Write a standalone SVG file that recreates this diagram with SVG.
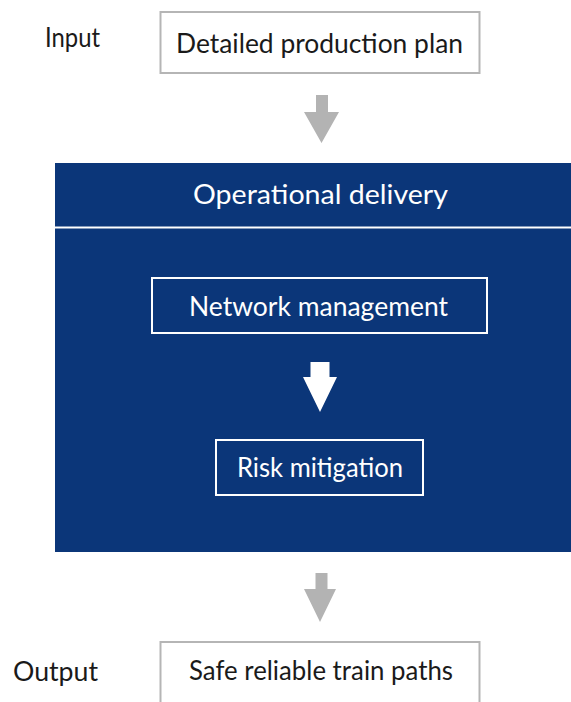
<svg xmlns="http://www.w3.org/2000/svg" width="571" height="702" viewBox="0 0 571 702">
  <style>
    text { font-family: Lato, "Open Sans", "Liberation Sans", sans-serif; font-size: 27px; }
    .dark { fill: #1a1a1a; }
    .light { fill: #ffffff; }
    .grey-box { fill: #ffffff; stroke: #b5b5b5; stroke-width: 2; }
    .white-box { fill: none; stroke: #ffffff; stroke-width: 2; }
    .grey-arrow { fill: #b3b3b3; }
    .white-arrow { fill: #ffffff; }
  </style>
  <rect width="571" height="702" fill="#ffffff"/>

  <!-- side labels -->
  <g id="label-input">
    <text class="dark" x="45" y="47" textLength="55" lengthAdjust="spacingAndGlyphs">Input</text>
  </g>
  <g id="label-output">
    <text class="dark" x="13" y="681" textLength="85" lengthAdjust="spacingAndGlyphs">Output</text>
  </g>

  <!-- input box -->
  <g id="production-plan">
    <rect class="grey-box" x="160.5" y="12" width="319" height="61"/>
    <text class="dark" x="176" y="53" textLength="287" lengthAdjust="spacingAndGlyphs">Detailed production plan</text>
  </g>

  <!-- operational delivery panel -->
  <g id="operational-delivery">
    <rect x="55" y="163" width="516" height="389" fill="#0b3679"/>
    <line x1="55" y1="227.5" x2="571" y2="227.5" stroke="#ffffff" stroke-width="2"/>
    <text class="light" x="193" y="204" textLength="255" lengthAdjust="spacingAndGlyphs">Operational delivery</text>
  </g>

  <g id="network-management">
    <rect class="white-box" x="152" y="278" width="335" height="55"/>
    <text class="light" x="189" y="315.5" textLength="259" lengthAdjust="spacingAndGlyphs">Network management</text>
  </g>

  <g id="risk-mitigation">
    <rect class="white-box" x="216" y="440" width="207" height="55"/>
    <text class="light" x="237" y="476.5" textLength="166" lengthAdjust="spacingAndGlyphs">Risk mitigation</text>
  </g>

  <!-- output box (runs off the bottom edge) -->
  <g id="train-paths">
    <rect class="grey-box" x="160.5" y="642" width="319" height="80"/>
    <text class="dark" x="189" y="680" textLength="264" lengthAdjust="spacingAndGlyphs">Safe reliable train paths</text>
  </g>

  <!-- connectors -->
  <g id="connectors">
    <path class="grey-arrow" d="M316 95 H328 V112 H339 L321.5 143 L304 112 H316 Z"/>
    <path class="white-arrow" d="M310.5 362 H329.5 V377 H337 L320 412 L303 377 H310.5 Z"/>
    <path class="grey-arrow" d="M315.5 573 H327.5 V589 H336 L320 622 L304 589 H315.5 Z"/>
  </g>
</svg>
